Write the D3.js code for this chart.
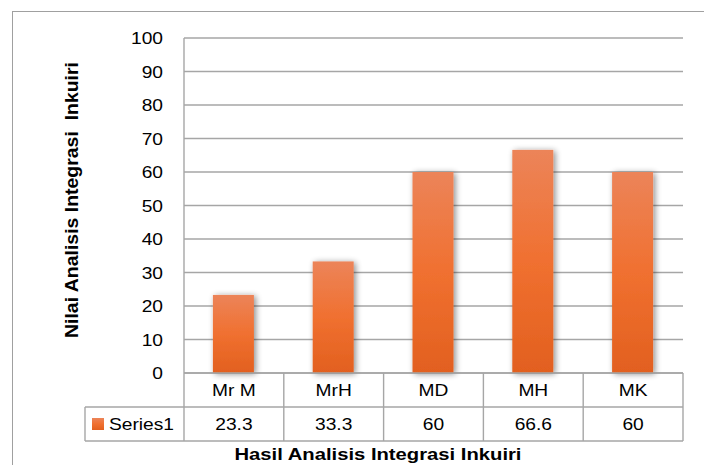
<!DOCTYPE html>
<html><head><meta charset="utf-8">
<script src="https://cdn.jsdelivr.net/npm/d3@7"></script>
<style>body{margin:0;background:#fff}svg{display:block}</style>
</head><body>
<svg id="c" width="704" height="465"></svg>
<script>
const categories = ["Mr M", "MrH", "MD", "MH", "MK"];
const values = [23.3, 33.3, 60, 66.6, 60];
const valueLabels = ["23.3", "33.3", "60", "66.6", "60"];
const yTicks = [0, 10, 20, 30, 40, 50, 60, 70, 80, 90, 100];
const seriesName = "Series1";
const xTitle = "Hasil Analisis Integrasi Inkuiri";
const yTitle = "Nilai Analisis Integrasi  Inkuiri";

const svg = d3.select("#c");
const W = 704, H = 465;
const plot = {l: 184, r: 683, t: 38, b: 373};
const gridCol = "#a6a6a6";
const font = "'Liberation Sans', Arial, sans-serif";
const SX = 1.2; // horizontal stretch of the reference image

// outer frame
svg.append("rect").attr("x", 12.5).attr("y", 11.5).attr("width", W).attr("height", H)
  .attr("fill", "#fff").attr("stroke", "#a0a0a0").attr("stroke-width", 1);

const defs = svg.append("defs");
const grad = defs.append("linearGradient").attr("id", "bg").attr("x1", 0).attr("y1", 0).attr("x2", 0).attr("y2", 1);
grad.append("stop").attr("offset", "0%").attr("stop-color", "#ec8459");
grad.append("stop").attr("offset", "50%").attr("stop-color", "#f07030");
grad.append("stop").attr("offset", "100%").attr("stop-color", "#e2601f");
const f = defs.append("filter").attr("id", "sh").attr("x", "-30%").attr("y", "-10%").attr("width", "160%").attr("height", "120%");
f.append("feGaussianBlur").attr("in", "SourceAlpha").attr("stdDeviation", 3).attr("result", "b");
f.append("feOffset").attr("in", "b").attr("dx", 2).attr("dy", 1).attr("result", "o");
f.append("feComponentTransfer").attr("in", "o").attr("result", "o2")
  .append("feFuncA").attr("type", "linear").attr("slope", 0.45);
const m = f.append("feMerge");
m.append("feMergeNode").attr("in", "o2");
m.append("feMergeNode").attr("in", "SourceGraphic");

const x = d3.scaleBand().domain(categories).range([plot.l, plot.r]).paddingInner(0).paddingOuter(0);
const y = d3.scaleLinear().domain([0, 100]).range([plot.b, plot.t]);

function stext(g, data, fx, fy, anchor, txt, size, weight) {
  return g.selectAll(null).data(data).join("text")
    .attr("transform", (d, i) => `translate(${fx(d, i)},${fy(d, i)}) scale(${SX},1)`)
    .attr("text-anchor", anchor).attr("font-family", font).attr("font-size", size || 16)
    .attr("font-weight", weight || "normal").attr("fill", "#000").text(txt);
}

// gridlines
svg.append("g").selectAll("line").data(yTicks).join("line")
  .attr("x1", plot.l).attr("x2", plot.r)
  .attr("y1", d => y(d)).attr("y2", d => y(d))
  .attr("stroke", gridCol).attr("stroke-width", 1.4);

// y axis labels
stext(svg.append("g"), yTicks, () => 163, d => y(d) + 6, "end", d => d);

// vertical axis line
svg.append("line").attr("x1", plot.l).attr("x2", plot.l).attr("y1", plot.t).attr("y2", plot.b)
  .attr("stroke", gridCol).attr("stroke-width", 1.4);

// bars
const bw = 41;
svg.append("g").selectAll("rect").data(values).join("rect")
  .attr("x", (d, i) => x(categories[i]) + x.bandwidth() / 2 - bw / 2 - 0.5)
  .attr("y", d => y(d))
  .attr("width", bw)
  .attr("height", d => y(0) - y(d))
  .attr("fill", "url(#bg)")
  .attr("filter", "url(#sh)");

// data table
const rowH = 34;
const tTop = plot.b, tLeft = 85;
const tg = svg.append("g");
const lineAttr = s => s.attr("stroke", gridCol).attr("stroke-width", 1.4);
lineAttr(tg.append("line").attr("x1", plot.l).attr("x2", plot.r).attr("y1", tTop).attr("y2", tTop));
lineAttr(tg.append("line").attr("x1", tLeft).attr("x2", plot.r).attr("y1", tTop + rowH).attr("y2", tTop + rowH));
lineAttr(tg.append("line").attr("x1", tLeft).attr("x2", plot.r).attr("y1", tTop + 2 * rowH).attr("y2", tTop + 2 * rowH));
const vx = categories.map(c => x(c)).concat([plot.r]);
tg.selectAll("line.v").data(vx).join("line").attr("class", "v")
  .attr("x1", d => d).attr("x2", d => d).attr("y1", tTop).attr("y2", tTop + 2 * rowH)
  .attr("stroke", gridCol).attr("stroke-width", 1.4);
lineAttr(tg.append("line").attr("x1", tLeft).attr("x2", tLeft).attr("y1", tTop + rowH).attr("y2", tTop + 2 * rowH));

stext(tg, categories, d => x(d) + x.bandwidth() / 2, () => tTop + rowH / 2 + 6, "middle", d => d);
stext(tg, valueLabels, (d, i) => x(categories[i]) + x.bandwidth() / 2, () => tTop + rowH * 1.5 + 6, "middle", d => d);

// legend key
tg.append("rect").attr("x", 92).attr("y", tTop + rowH * 1.5 - 6).attr("width", 12).attr("height", 12).attr("fill", "url(#bg)");
stext(tg, [seriesName], () => 109, () => tTop + rowH * 1.5 + 6, "start", d => d);

// titles
svg.append("text").attr("x", 378).attr("y", 460).attr("text-anchor", "middle")
  .attr("font-family", font).attr("font-weight", "bold").attr("font-size", 17)
  .attr("textLength", 287).attr("lengthAdjust", "spacingAndGlyphs").text(xTitle);
svg.append("text").attr("transform", "translate(78,200) rotate(-90)").attr("text-anchor", "middle")
  .attr("font-family", font).attr("font-weight", "bold").attr("font-size", 18.5)
  .attr("textLength", 276).attr("lengthAdjust", "spacingAndGlyphs")
  .style("white-space", "pre").text(yTitle);
</script>
</body></html>
